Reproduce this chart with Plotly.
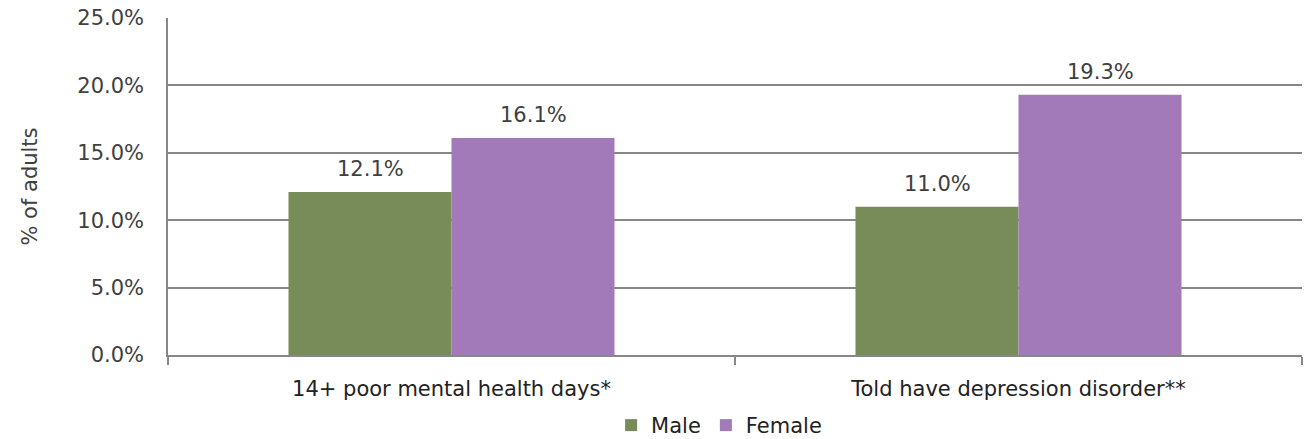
import plotly.graph_objects as go

categories = ["14+ poor mental health days*", "Told have depression disorder**"]
male = [12.1, 11.0]
female = [16.1, 19.3]
male_labels = ["12.1%", "11.0%"]
female_labels = ["16.1%", "19.3%"]

FONT = "DejaVu Sans"
TXT = "#404040"
GRID = "#878787"

fig = go.Figure()
fig.add_trace(go.Bar(name="Male", x=categories, y=male, marker_color="#778c58",
                     marker_line_width=0))
fig.add_trace(go.Bar(name="Female", x=categories, y=female, marker_color="#a279b9",
                     marker_line_width=0))

# data labels above bars
for cat, v, lab in zip(categories, male, male_labels):
    fig.add_annotation(x=cat, y=v, text=lab, showarrow=False, xshift=-81.5, yshift=9,
                       yanchor="bottom", font=dict(family=FONT, size=21, color=TXT))
for cat, v, lab in zip(categories, female, female_labels):
    fig.add_annotation(x=cat, y=v, text=lab, showarrow=False, xshift=81.5, yshift=9,
                       yanchor="bottom", font=dict(family=FONT, size=21, color=TXT))

fig.update_layout(
    width=1305, height=439,
    margin=dict(l=168, r=3, t=18, b=84, autoexpand=False),
    paper_bgcolor="white", plot_bgcolor="white",
    barmode="group", bargap=0.425, bargroupgap=0,
    font=dict(family=FONT, size=21, color=TXT),
    legend=dict(orientation="h", x=0.486, xanchor="center", y=-0.27, yanchor="bottom",
                font=dict(family=FONT, size=21, color="#222222"),
                traceorder="normal", itemwidth=30, tracegroupgap=0),
    showlegend=True,
)
fig.update_yaxes(range=[0, 25], dtick=5, tickformat=".1f", ticksuffix="%",
                 showgrid=True, gridcolor=GRID, gridwidth=1.5,
                 showline=True, linecolor=GRID, linewidth=1.5,
                 zeroline=False, ticks="", ticklabelstandoff=18, automargin=False,
                 tickfont=dict(family=FONT, size=21, color=TXT),
                 title=dict(text="% of adults", font=dict(family=FONT, size=21, color=TXT), standoff=34))
fig.update_xaxes(showline=True, linecolor=GRID, linewidth=1.5, automargin=False,
                 ticks="outside", tickson="boundaries", ticklen=8, tickcolor=GRID, tickwidth=1.5,
                 ticklabelstandoff=14,
                 tickfont=dict(family=FONT, size=21, color="#222222"))

fig.write_html("out.html", config={"displayModeBar": False},
               post_script="document.body.style.margin='0';")
